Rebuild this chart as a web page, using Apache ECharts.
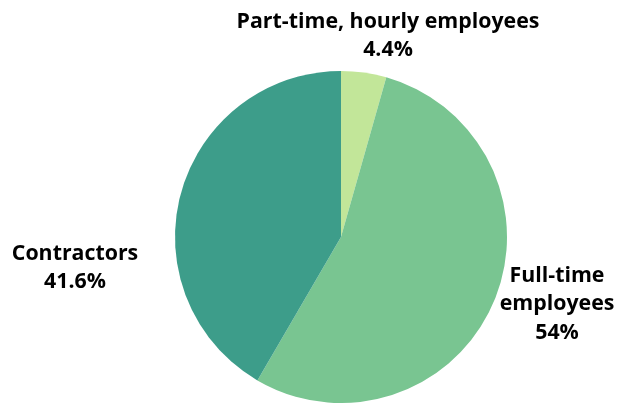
<!DOCTYPE html>
<html>
<head>
<meta charset="utf-8">
<script src="https://cdn.jsdelivr.net/npm/echarts@6/dist/echarts.min.js"></script>
<style>
  html, body { margin: 0; padding: 0; background: #fff; }
  #chart { width: 628px; height: 403px; }
</style>
</head>
<body>
<div id="chart"></div>
<script>
// Workforce composition
const categories = ['Part-time, hourly employees', 'Full-time\nemployees', 'Contractors'];
const shares = [4.4, 54, 41.6];
const colors = ['#c2e699', '#79c591', '#3d9d8a'];
// label anchor points (centre of each text block)
const labelSpots = [[388, 36], [557, 304], [75, 268]];

const chart = echarts.init(document.getElementById('chart'));
chart.setOption({
  animation: false,
  series: [{
    type: 'pie',
    center: [341, 237],
    radius: [0, 166],
    startAngle: 90,
    clockwise: true,
    data: categories.map((name, i) => ({
      name: name,
      value: shares[i],
      itemStyle: { color: colors[i] }
    })),
    label: {
      show: true,
      position: 'outside',
      formatter: '{b}\n{c}%',
      fontFamily: '"Open Sans", "Noto Sans", sans-serif',
      fontWeight: 'bold',
      fontSize: 21.33,
      lineHeight: 28.5,
      color: '#000',
      align: 'center',
      overflow: 'none'
    },
    labelLine: { show: false },
    labelLayout: function (params) {
      const p = labelSpots[params.dataIndex];
      return { x: p[0], y: p[1], align: 'center', verticalAlign: 'middle' };
    },
    emphasis: { disabled: true }
  }]
});
</script>
</body>
</html>
